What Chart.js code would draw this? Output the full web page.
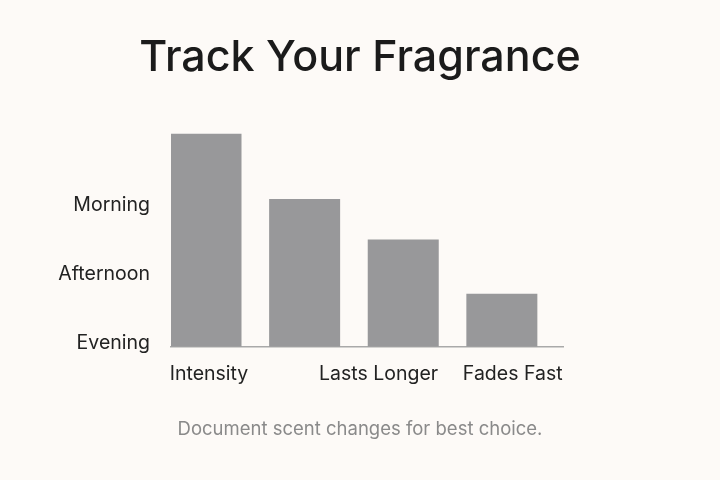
<!DOCTYPE html>
<html>
<head>
<meta charset="utf-8">
<script src="https://cdn.jsdelivr.net/npm/chart.js@4/dist/chart.umd.min.js"></script>
<style>
    html, body { margin: 0; padding: 0; background: #fdfaf7; }
    #wrap { width: 720px; height: 480px; }
</style>
</head>
<body>
<div id="wrap"><canvas id="chart"></canvas></div>
<script>
const categories = ["Intensity", "", "Lasts Longer", "Fades Fast"];
const levels = [3.1, 2.15, 1.56, 0.77];
const timeTicks = ["Evening", "Afternoon", "Morning"];

const FONT = "Inter, 'Liberation Sans', sans-serif";

// labels in the picture sit a little off their bar centres
const labelShift = { 0: 0.03, 2: -0.25, 3: 0.11 };

const createChart = () => {
    const ctx = document.querySelector("canvas#chart");

    new Chart(ctx, {
        type: "bar",
        data: {
            datasets: [{
                data: levels.map((v, i) => ({ x: i, y: v })),
                backgroundColor: "#98989a",
                barPercentage: 0.72,
                categoryPercentage: 1
            }]
        },
        options: {
            responsive: true,
            maintainAspectRatio: false,
            animation: false,
            layout: { padding: 0 },
            plugins: {
                legend: { display: false },
                tooltip: { enabled: false },
                title: {
                    display: true,
                    text: "Track Your Fragrance",
                    color: "#1b1b1b",
                    font: { family: FONT, size: 43, weight: "500", lineHeight: 1.2 },
                    padding: { top: 32, bottom: 50 }
                },
                subtitle: {
                    display: true,
                    position: "bottom",
                    text: "Document scent changes for best choice.",
                    color: "#8a8a8a",
                    font: { family: FONT, size: 18.5, lineHeight: 1.2 },
                    padding: { top: 8, bottom: 39 }
                }
            },
            scales: {
                x: {
                    type: "linear",
                    offset: false,
                    min: -0.355,
                    max: 3.62,
                    grid: { display: false, drawTicks: false },
                    border: { display: true, color: "#a9a9a9", width: 1.5 },
                    afterBuildTicks: (s) => {
                        s.ticks = categories
                            .map((c, i) => ({ value: i + (labelShift[i] || 0), label: c }))
                            .filter(t => t.label);
                    },
                    afterFit: (s) => { s.height = 64; },
                    ticks: {
                        autoSkip: false,
                        maxRotation: 0,
                        padding: 16,
                        color: "#222",
                        font: { family: FONT, size: 19.5 },
                        callback: (v, i, ticks) => ticks[i].label
                    }
                },
                y: {
                    min: 0,
                    max: 3.1,
                    grid: { display: false, drawTicks: false },
                    border: { display: false },
                    afterBuildTicks: (s) => { s.ticks = timeTicks.map((t, i) => ({ value: i })); },
                    afterFit: (s) => { s.width = 171; },
                    ticks: {
                        padding: 21,
                        labelOffset: -4,
                        color: "#222",
                        font: { family: FONT, size: 19.5 },
                        callback: (v) => timeTicks[v] ?? ""
                    }
                },
                right: {
                    position: "right",
                    display: true,
                    grid: { display: false, drawTicks: false },
                    border: { display: false },
                    ticks: { display: false },
                    afterFit: (s) => { s.width = 157; }
                }
            }
        }
    });
};

createChart();
</script>
</body>
</html>
